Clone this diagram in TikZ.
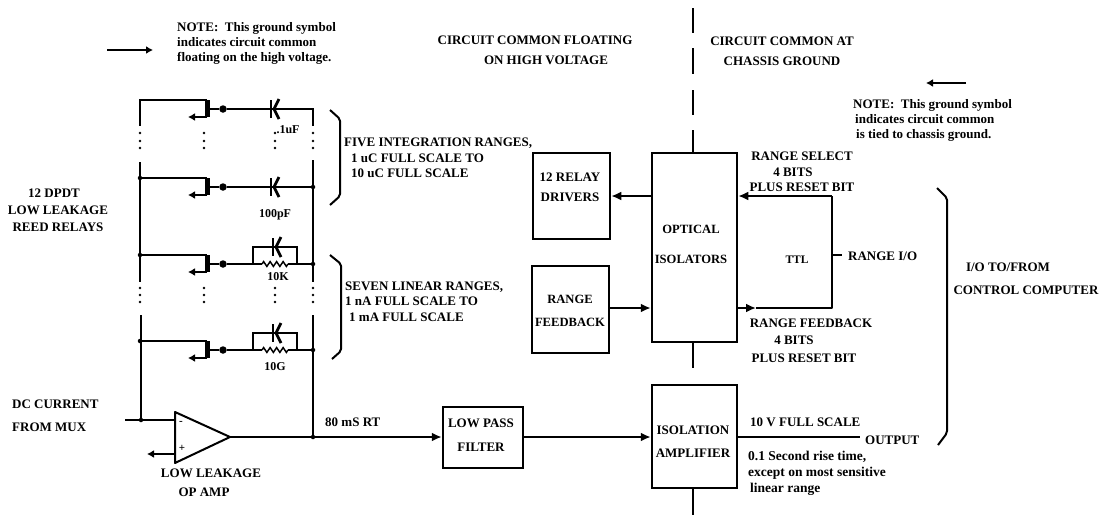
\documentclass[tikz,border=0pt]{standalone}
\usepackage{fontspec}
\setmainfont{Liberation Serif}
\usetikzlibrary{arrows.meta,decorations.pathmorphing}

\begin{document}
\begin{tikzpicture}[
    x=1pt, y=-1pt,
    wire/.style={line width=2pt},
    thinwire/.style={line width=1.5pt},
    box/.style={draw, line width=2.5pt, inner sep=0pt, align=center},
    lbl/.style={inner sep=0pt, align=center, font=\fontsize{13}{15.5}\selectfont\bfseries},
    note/.style={inner sep=0pt, align=left, font=\fontsize{13}{15}\selectfont\bfseries},
    arr/.style={-{Latex[length=10pt,width=9pt]}, wire},
    gnd/.style={-{Latex[length=7pt,width=8pt]}, wire},
    jdot/.style={circle, fill, inner sep=0pt, minimum size=4.5pt},
    rdot/.style={circle, fill, inner sep=0pt, minimum size=7.5pt},
    vdot/.style={circle, fill, inner sep=0pt, minimum size=2.8pt},
    plate/.style={line width=2.8pt},
    res/.style={thinwire, decorate, decoration={zigzag, amplitude=2.4pt, segment length=6.5pt}},
    brace/.style={wire, rounded corners=2pt},
  ]
    \useasboundingbox (0,0) rectangle (1101,515);

    % ground notes
    \coordinate (na) at (107,50);
    \coordinate (nb) at (153,50);
    \coordinate (nc) at (966,83);
    \coordinate (nd) at (926,83);
    \draw[gnd] (na) -- (nb);
    \draw[gnd] (nc) -- (nd);
    \node[note, anchor=west] at (177,43) {NOTE:\ \ This ground symbol\\indicates circuit common\\floating on the high voltage.};
    \node[note, anchor=west] at (853,120) {NOTE:\ \ This ground symbol\\\hspace{2pt}indicates circuit common\\\hspace{3pt}is tied to chassis ground.};

    % headings
    \node[lbl, font=\fontsize{13}{20}\selectfont\bfseries] at (535,50) {CIRCUIT COMMON FLOATING\\\hspace{22pt}ON HIGH VOLTAGE};
    \node[lbl, font=\fontsize{13}{20}\selectfont\bfseries] at (782,51) {CIRCUIT COMMON AT\\CHASSIS GROUND};

    % blocks
    \node[box, minimum width=85pt, minimum height=189pt] (O) at (694.5,247.5) {};
    \node[box, minimum width=77pt, minimum height=86pt] (D) at (571.5,196) {};
    \node[box, minimum width=77pt, minimum height=87pt] (F) at (570.5,309.5) {};
    \node[box, minimum width=80pt, minimum height=61pt] (P) at (483,437.5) {};
    \node[box, minimum width=85pt, minimum height=103pt] (A) at (694.5,436.5) {};
    \node[lbl, font=\fontsize{13}{20}\selectfont\bfseries] at (570,187) {12 RELAY\\DRIVERS};
    \node[lbl, font=\fontsize{12.6}{23}\selectfont\bfseries] at (570,310.5) {RANGE\\FEEDBACK};
    \node[lbl, font=\fontsize{12.6}{30}\selectfont\bfseries] at (691,244) {OPTICAL\\ISOLATORS};
    \node[lbl, font=\fontsize{13}{24}\selectfont\bfseries] at (481,435) {LOW PASS\\FILTER};
    \node[lbl, font=\fontsize{13}{23}\selectfont\bfseries] at (693,441.5) {ISOLATION\\AMPLIFIER};

    % isolation barrier
    \foreach \ya/\yb/\n in {8/33/a,48/74/b,90/115/c,130/153/d,342/368/e,488/515/f}{
      \coordinate (b\n1) at (693,\ya);
      \coordinate (b\n2) at (693,\yb);
      \draw[thinwire] (b\n1) -- (b\n2);
    }

    % relay rows
    \foreach \yl/\yr/\n in {100/109/a,178/187/b,255/264/c,341/350/d}{
      \coordinate (l\n) at (140,\yl);
      \coordinate (k\n) at (207,\yl);
      \coordinate (m\n) at (207,\yr);
      \coordinate (h\n) at (207,\yl+17);
      \coordinate (g\n) at (188,\yl+17);
      \coordinate (r\n) at (313,\yr);
      \node[rdot] (s\n) at (223,\yr) {};
      \draw[wire] (l\n) -- (k\n);
      \draw[line width=5pt] (k\n) -- (h\n);
      \draw[gnd] (h\n) -- (g\n);
      \draw[wire] (m\n) -- (s\n);
    }
    \foreach \y/\n in {109/a,187/b}{
      \coordinate (c\n) at (273,\y);
      \draw[wire] (s\n) -- (r\n);
      \draw[plate] ([xshift=-2pt,yshift=9pt]c\n) -- ([xshift=-2pt,yshift=-9pt]c\n);
      \draw[plate] ([xshift=6pt,yshift=10pt]c\n) -- ([xshift=1pt]c\n) -- ([xshift=6pt,yshift=-10pt]c\n);
    }
    \foreach \y/\n in {264/c,350/d}{
      \coordinate (pa\n) at (253,\y);
      \coordinate (pb\n) at (262,\y);
      \coordinate (pc\n) at (288,\y);
      \coordinate (pd\n) at (297,\y);
      \coordinate (ta\n) at (253,\y-17);
      \coordinate (td\n) at (297,\y-17);
      \coordinate (c\n) at (275,\y-17);
      \draw[wire] (s\n) -- (pb\n);
      \draw[res] (pb\n) -- (pc\n);
      \draw[wire] (pc\n) -- (r\n);
      \draw[wire] (pa\n) -- (ta\n) -- (td\n) -- (pd\n);
      \draw[plate] ([xshift=-2pt,yshift=9pt]c\n) -- ([xshift=-2pt,yshift=-9pt]c\n);
      \draw[plate] ([xshift=6pt,yshift=10pt]c\n) -- ([xshift=1pt]c\n) -- ([xshift=6pt,yshift=-10pt]c\n);
    }

    % rails
    \coordinate (la1) at (140,125);
    \coordinate (lb1) at (140,162);
    \coordinate (lb2) at (140,282);
    \coordinate (lc1) at (141,315);
    \coordinate (ra1) at (313,125);
    \coordinate (rb1) at (313,160);
    \coordinate (rb2) at (313,282);
    \coordinate (rc1) at (313,315);
    \draw[wire, line cap=rect] (la) -- (la1);
    \draw[wire] (lb1) -- (lb2);
    \draw[wire, line cap=rect] (ra) -- (ra1);
    \draw[wire] (rb1) -- (rb2);
    \foreach \n in {b,c,d}{
      \node[jdot] at (l\n) {};
      \node[jdot] at (r\n) {};
    }

    % dots between rows
    \foreach \x in {140,204,275,313}{
      \node[vdot] at (\x,133) {};
      \node[vdot] at (\x,141) {};
      \node[vdot] at (\x,148) {};
      \node[vdot] at (\x,288) {};
      \node[vdot] at (\x,295) {};
      \node[vdot] at (\x,302) {};
    }

    % op amp
    \node[inner sep=0pt, font=\fontsize{11}{11}\selectfont\bfseries] at (181,423) {-};
    \node[inner sep=0pt, font=\fontsize{11}{11}\selectfont\bfseries] at (182,448) {+};
    \coordinate (oa) at (175,412);
    \coordinate (ob) at (175,463);
    \coordinate (oc) at (230,437);
    \coordinate (om) at (175,420);
    \coordinate (oq) at (175,454);
    \coordinate (in) at (125,420);
    \coordinate (ig) at (147,454);
    \coordinate (ij) at (141,420);
    \coordinate (oj) at (313,437);
    \draw[wire, line join=round] (oa) -- (ob) -- (oc) -- cycle;
    \draw[wire] (in) -- (om);
    \draw[gnd] (oq) -- (ig);
    \draw[wire] (lc1) -- (ij);
    \draw[wire] (rc1) -- (oj);
    \node[jdot] at (ij) {};
    \node[jdot] at (oj) {};
    \draw[arr] (oc) -- (P.west |- oc);
    \draw[arr] (P.east |- oc) -- (A.west |- oc);

    % isolators and ttl
    \coordinate (ta) at (832,196);
    \coordinate (tb) at (832,308);
    \coordinate (tc) at (756,308);
    \coordinate (ts) at (842,255);
    \coordinate (tt) at (832,255);
    \coordinate (ou) at (860,437);
    \draw[arr, line width=2.6pt] (O.west |- ta) -- (D.east |- ta);
    \draw[arr] (F.east |- tb) -- (O.west |- tb);
    \draw[arr, line width=2.6pt] (ta) -- (O.east |- ta);
    \draw[line width=2.6pt, line join=round] (ta) -- (tb) -- (tc);
    \draw[arr, line width=2.6pt] (O.east |- tb) -- (tc);
    \draw[wire] (tt) -- (ts);
    \draw[wire] (A.east |- ou) -- (ou);

    % braces
    \draw[brace] (330,110) -- (340,119) -- (340,196) -- (330,205);
    \draw[brace] (330,255) -- (341,264) -- (341,351) -- (332,359);
    \draw[brace] (937,188) -- (947,198) -- (947,433) -- (938,445);

    % labels
    \node[lbl, font=\fontsize{12}{12}\selectfont\bfseries] at (288,130) {.1uF};
    \node[lbl, font=\fontsize{12}{12}\selectfont\bfseries] at (275,215) {100pF};
    \node[lbl, font=\fontsize{12}{12}\selectfont\bfseries] at (278,277) {10K};
    \node[lbl, font=\fontsize{12}{12}\selectfont\bfseries] at (275,367) {10G};
    \node[lbl, font=\fontsize{13}{17}\selectfont\bfseries] at (58,210) {\hspace{-8pt}12 DPDT\\LOW LEAKAGE\\REED RELAYS};
    \node[lbl, align=left, anchor=west, font=\fontsize{13}{23}\selectfont\bfseries] at (12,415.5) {DC CURRENT\\FROM MUX};
    \node[lbl, font=\fontsize{13}{19}\selectfont\bfseries] at (211,482.5) {LOW LEAKAGE\\\hspace{-14pt}OP AMP};
    \node[lbl, anchor=west] at (325,422) {80 mS RT};
    \node[lbl, align=left, anchor=west] at (344,158) {FIVE INTEGRATION RANGES,\\\hspace{7pt}1 uC FULL SCALE TO\\\hspace{7pt}10 uC FULL SCALE};
    \node[lbl, align=left, anchor=west] at (345,301.5) {SEVEN LINEAR RANGES,\\1 nA FULL SCALE TO\\\hspace{4pt}1 mA FULL SCALE};
    \node[lbl] at (802,172) {RANGE SELECT\\\hspace{-18pt}4 BITS\\PLUS RESET BIT};
    \node[lbl, font=\fontsize{13}{17.5}\selectfont\bfseries] at (811,340.5) {RANGE FEEDBACK\\\hspace{-34pt}4 BITS\\\hspace{-14pt}PLUS RESET BIT};
    \node[lbl, font=\fontsize{11.5}{11.5}\selectfont\bfseries] at (797,260) {TTL};
    \node[lbl, anchor=west] at (848,256) {RANGE I/O};
    \node[lbl, anchor=west] at (865,440) {OUTPUT};
    \node[lbl, anchor=west] at (750,422) {10 V FULL SCALE};
    \node[note, anchor=west, font=\fontsize{13.5}{16}\selectfont\bfseries] at (748,473) {0.1 Second rise time,\\except on most sensitive\\\hspace{2pt}linear range};
    \node[lbl, font=\fontsize{13}{23}\selectfont\bfseries] at (1026,278.5) {\hspace{-36pt}I/O TO/FROM\\CONTROL COMPUTER};
\end{tikzpicture}
\end{document}
